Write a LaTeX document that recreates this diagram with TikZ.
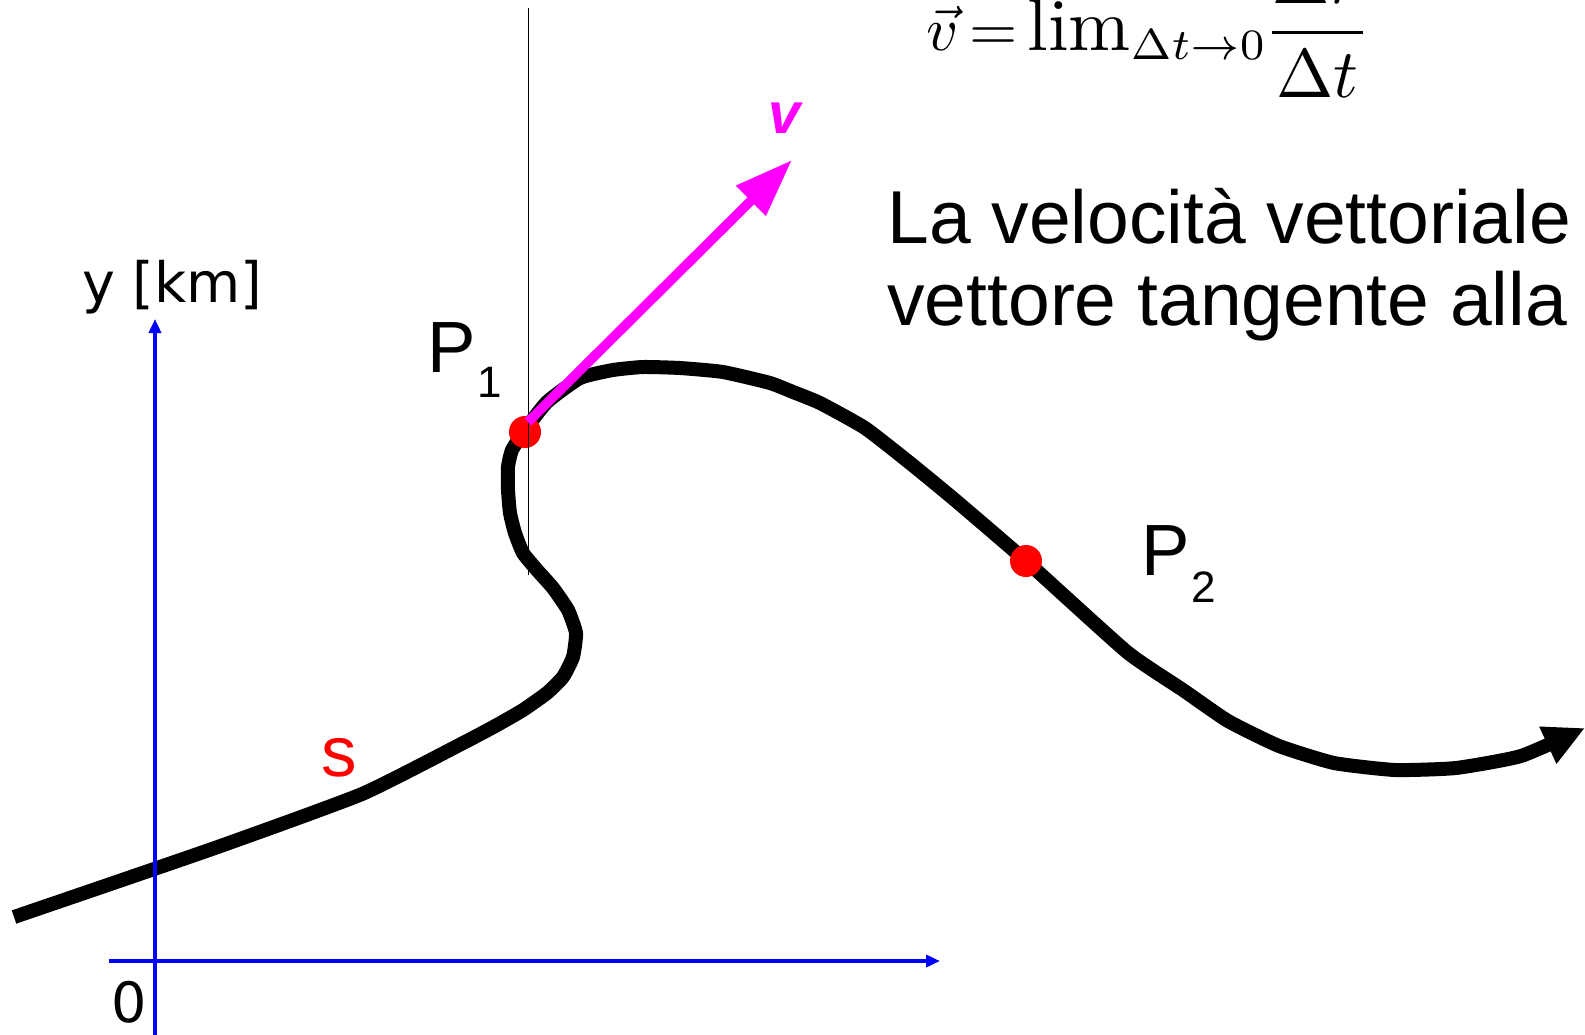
\documentclass[tikz,border=0pt]{standalone}
\usepackage{fontspec}
\newfontfamily\arialf{Liberation Sans}
\newfontfamily\dejavuf{DejaVu Sans}
\usetikzlibrary{arrows.meta}
\definecolor{axisblue}{RGB}{0,0,255}
\definecolor{vecmag}{RGB}{255,0,255}
\definecolor{dotred}{RGB}{255,0,0}
\begin{document}
\begin{tikzpicture}[x=0.5pt,y=-0.5pt,
  curvepath/.style={line width=7pt,black,line join=round,-{Triangle[length=20.5pt,width=19pt]}},
  axisline/.style={line width=2pt,axisblue,-{Triangle[length=7pt,width=6pt]}},
  vecarrow/.style={line width=4.8pt,vecmag,-{Triangle[length=29pt,width=20pt]}},
  guide/.style={line width=0.5pt,black},
  pdot/.style={circle,fill=dotred,minimum size=16pt,inner sep=0pt},
  lbl/.style={inner sep=0pt,anchor=base west},
  bigtxt/.style={lbl,font=\arialf\fontsize{37.5}{45}\selectfont},
  ptxt/.style={lbl,font=\arialf\fontsize{36.3}{44}\selectfont},
  subtxt/.style={lbl,font=\arialf\fontsize{22}{26}\selectfont},
  axtxt/.style={lbl,font=\dejavuf\fontsize{27.8}{33}\selectfont},
  formula/.style={lbl}]
\useasboundingbox (0,0) rectangle (1585,1034);
\clip (0,0) rectangle (1585,1034);

% coordinates
\coordinate (yfoot) at (155,1040);
\coordinate (ytip) at (155,319);
\coordinate (xfoot) at (109,961);
\coordinate (xtip) at (940,961);
\coordinate (gtop) at (528,8);
\coordinate (gbot) at (528,575);
\coordinate (vstart) at (528,422);
\coordinate (vtip) at (792,160);

% trajectory
\draw[curvepath] plot[smooth,tension=0.3] coordinates {
 (14,917) (212,849) (362,794) (465,742) (497,725) (523,710) (547,693) (563,677)
 (573,657) (576,633) (568,610) (553,588) (537,570) (523,553) (515,533) (510,513)
 (508,490) (508,467) (512,450) (525,430) (547,402) (580,378) (613,370) (643,367)
 (680,368) (723,372) (770,383) (793,392) (820,403) (865,428) (910,463) (955,500)
 (1026,561) (1127,652) (1183,690) (1228,721) (1279,746) (1334,763) (1395,770)
 (1456,768) (1521,756) (1585,728)};

% axes
\draw[axisline] (yfoot) -- (ytip);
\draw[axisline] (xfoot) -- (xtip);

% points
\node[pdot] (p1) at (525,432) {};
\node[pdot] (p2) at (1026,561) {};

% guide line
\draw[guide] (gtop) -- (gbot);

% velocity vector
\draw[vecarrow] (vstart) -- (vtip);

% labels
\node[axtxt] (ylab) at (82,302) {y [km]};
\node[axtxt] (zero) at (111,1022) {0};
\node[ptxt] (p1P) at (427,372) {P};
\node[subtxt] (p1n) at (477,397) {1};
\node[ptxt] (p2P) at (1141,575) {P};
\node[subtxt] (p2n) at (1191,602) {2};
\node[lbl,font=\arialf\fontsize{35.5}{42}\selectfont,text=dotred] (slab) at (321,776) {s};
\node[lbl,font=\arialf\bfseries\itshape\fontsize{29}{35}\selectfont,text=vecmag] (vlab) at (768,133) {v};
\node[bigtxt] (t1) at (887,243) {La velocità vettoriale};
\node[bigtxt] (t2) at (887,325) {vettore tangente alla};
\node[formula] (eq) at (926,50) {\scalebox{3.1}{$\vec{v}\mkern-2mu=\mkern-2mu\scalebox{1.2}{$\lim$}_{\Delta t\to 0}\mkern-1mu\scalebox{1.11}{$\displaystyle\frac{\Delta\vec{r}}{\Delta t}$}$}};
\end{tikzpicture}
\end{document}
